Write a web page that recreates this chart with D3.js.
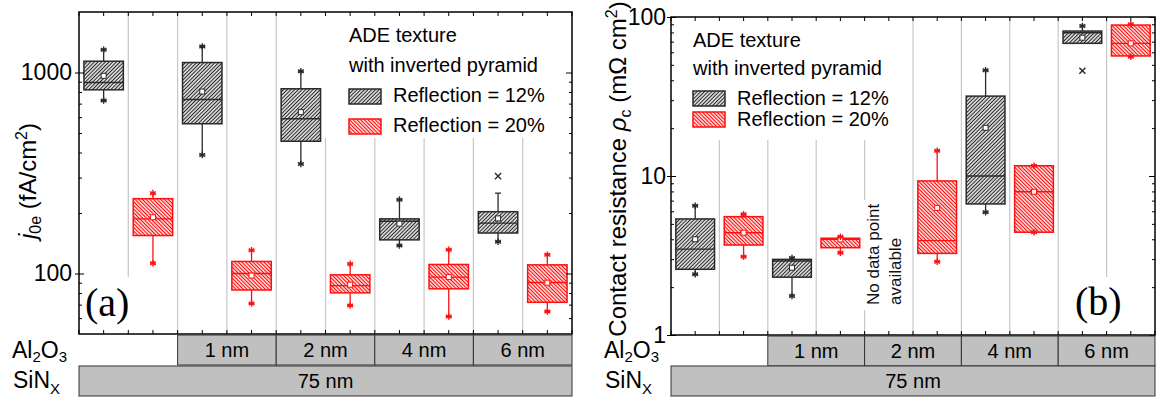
<!DOCTYPE html>
<html>
<head>
<meta charset="utf-8">
<script src="https://cdn.jsdelivr.net/npm/d3@7"></script>
<style>
body { margin: 0; background: #fff; }
svg { display: block; font-family: "Liberation Sans", Arial, sans-serif; }
</style>
</head>
<body>
<div id="view"></div>
<script>
var width = 1159, height = 397;

// Al2O3 interlayer groups, each one has a 12% and a 20% reflection box
var groups = ["none", "1 nm", "2 nm", "4 nm", "6 nm"];
var al2o3Labels = ["", "1 nm", "2 nm", "4 nm", "6 nm"];
var sinxLabel = "75 nm";
var legendTitle = ["ADE texture", "with inverted pyramid"];
var seriesNames = ["Reflection = 12%", "Reflection = 20%"];

// panel (a): j0e (fA/cm2), reflection 12%
var j0eQ1_12 = [820, 556, 455, 147, 159];
var j0eMed_12 = [892, 734, 589, 182, 178];
var j0eQ3_12 = [1138, 1121, 830, 187, 203];
var j0eMean_12 = [963, 804, 635, 177, 188];
var j0eWhLo_12 = [726, 389, 351, 138, 144];
var j0eWhHi_12 = [1297, 1347, 1015, 233, 251];
var j0eMin_12 = [726, 389, 351, 138, 144];
var j0eMax_12 = [1297, 1347, 1015, 233, 305];
// panel (a): reflection 20%
var j0eQ1_20 = [154.5, 82.8, 80.1, 83.9, 71.9];
var j0eMed_20 = [187, 100, 87, 95.9, 90.2];
var j0eQ3_20 = [235.6, 114.8, 98.5, 110.9, 110.4];
var j0eMean_20 = [190.5, 97.7, 88, 96, 90];
var j0eMin_20 = [112.5, 71, 69.3, 61.1, 64.7];
var j0eMax_20 = [251, 130.6, 111.6, 131.3, 124];

// panel (b): contact resistance (mOhm cm2), reflection 12% (no data for 2 nm)
var rcQ1_12 = [2.59, 2.31, null, 6.67, 68.3];
var rcMed_12 = [3.47, 2.92, null, 10.0, 79.6];
var rcQ3_12 = [5.37, 2.99, null, 31.8, 81.6];
var rcMean_12 = [4.0, 2.65, null, 20.1, 74.1];
var rcWhLo_12 = [2.41, 1.76, null, 5.92, 68.3];
var rcWhHi_12 = [6.5, 3.05, null, 46.2, 87.8];
var rcMin_12 = [2.41, 1.76, null, 5.92, 45.9];
var rcMax_12 = [6.5, 3.05, null, 46.2, 87.8];
// panel (b): reflection 20%
var rcQ1_20 = [3.68, 3.54, 3.26, 4.43, 56.9];
var rcMed_20 = [4.4, 4.0, 3.92, 7.96, 68.3];
var rcQ3_20 = [5.55, 4.06, 9.31, 11.6, 89.0];
var rcMean_20 = [4.4, 3.99, 6.3, 7.96, 68.3];
var rcMin_20 = [3.11, 3.29, 2.89, 4.43, 56.3];
var rcMax_20 = [5.74, 4.15, 14.4, 11.6, 90.0];

var blackCol = "#2a2a2a", redCol = "#ff1010";

var svg = d3.select("#view").append("svg")
	.attr("width", width)
	.attr("height", height);

// hatch fills
var defs = svg.append("defs");
function hatch(id, angle, color) {
	defs.append("pattern")
		.attr("id", id)
		.attr("patternUnits", "userSpaceOnUse")
		.attr("width", 2.6).attr("height", 4)
		.attr("patternTransform", "rotate(" + angle + ")")
		.call(function(p) {
			p.append("rect").attr("width", 2.6).attr("height", 4).attr("fill", "#fff");
			p.append("line").attr("x1", 1.3).attr("x2", 1.3).attr("y1", 0).attr("y2", 4)
				.attr("stroke", color).attr("stroke-width", 1.2);
		});
}
hatch("hatchBlack", 45, "#222");
hatch("hatchRed", -45, "#ff0000");

function mkSeries(q1, med, q3, mean, wlo, whi, mn, mx, color, fill) {
	return groups.map(function(gname, i) {
		return { q1: q1[i], med: med[i], q3: q3[i], mean: mean[i], wlo: wlo[i], whi: whi[i],
			min: mn[i], max: mx[i], color: color, fill: fill };
	});
}

function drawPanel(p) {
	var g = svg.append("g");
	var x = d3.scaleBand().domain(d3.range(10)).range([p.left, p.right]);
	var y = d3.scaleLog().domain(p.domain).range([p.bottom, p.top]);
	var bw = x.bandwidth();

	// grid lines between slots
	g.selectAll(".grid").data(d3.range(1, 10)).enter().append("line")
		.attr("x1", function(d) { return x(d); })
		.attr("x2", function(d) { return x(d); })
		.attr("y1", p.top).attr("y2", p.bottom)
		.attr("stroke", "#c8c8c8").attr("stroke-width", 1.2);

	// white patches behind the legend and panel letter
	p.patches.forEach(function(r) {
		g.append("rect").attr("x", r[0]).attr("y", r[1]).attr("width", r[2]).attr("height", r[3]).attr("fill", "#fff");
	});

	// boxes
	p.series.forEach(function(ser, si) {
		ser.forEach(function(d, gi) {
			if (d.q1 == null) return;
			var cx = x(gi * 2 + si) + bw / 2;
			var bg = g.append("g");
			var sw = 1.3;
			bg.append("line").attr("x1", cx).attr("x2", cx).attr("y1", y(d.wlo)).attr("y2", y(d.q1))
				.attr("stroke", d.color).attr("stroke-width", sw);
			bg.append("line").attr("x1", cx).attr("x2", cx).attr("y1", y(d.whi)).attr("y2", y(d.q3))
				.attr("stroke", d.color).attr("stroke-width", sw);
			[d.wlo, d.whi].forEach(function(v) {
				if (v == d.q1 || v == d.q3) return;
				bg.append("line").attr("x1", cx - 3).attr("x2", cx + 3).attr("y1", y(v)).attr("y2", y(v))
					.attr("stroke", d.color).attr("stroke-width", sw);
			});
			bg.append("rect")
				.attr("x", cx - bw * 0.4).attr("width", bw * 0.8)
				.attr("y", y(d.q3)).attr("height", y(d.q1) - y(d.q3))
				.attr("fill", "url(#" + d.fill + ")")
				.attr("stroke", d.color).attr("stroke-width", 1.5);
			bg.append("line").attr("x1", cx - bw * 0.4).attr("x2", cx + bw * 0.4)
				.attr("y1", y(d.med)).attr("y2", y(d.med))
				.attr("stroke", d.color).attr("stroke-width", 1.4);
			bg.append("rect").attr("x", cx - 2.5).attr("y", y(d.mean) - 2.5).attr("width", 5).attr("height", 5)
				.attr("fill", "#fff").attr("stroke", d.color).attr("stroke-width", 1);
			[[d.min, d.wlo], [d.max, d.whi]].forEach(function(m) {
				var outlier = m[0] != m[1];
				bg.append("path")
					.attr("transform", "translate(" + cx + "," + y(m[0]) + ")")
					.attr("d", d3.symbol(outlier ? d3.symbolTimes : d3.symbolAsterisk, outlier ? 26 : 30)())
					.attr("fill", "none").attr("stroke", d.color).attr("stroke-width", 1.4);
			});
		});
	});

	// no-data note
	if (p.note) {
		p.note.lines.forEach(function(t, i) {
			g.append("text")
				.attr("transform", "translate(" + (p.note.x + i * 22) + "," + p.note.y + ") rotate(-90)")
				.attr("font-size", 17).attr("fill", "#111").text(t);
		});
	}

	// slot ticks on top and bottom
	var tickPos = d3.range(0, 10.5, 0.5).map(function(i) { return p.left + i * bw; });
	tickPos.forEach(function(tx) {
		g.append("line").attr("x1", tx).attr("x2", tx).attr("y1", p.bottom).attr("y2", p.bottom - 4)
			.attr("stroke", "#000").attr("stroke-width", 1);
		g.append("line").attr("x1", tx).attr("x2", tx).attr("y1", p.top).attr("y2", p.top + 4)
			.attr("stroke", "#000").attr("stroke-width", 1);
	});

	// y axes
	var yl = g.append("g").attr("transform", "translate(" + p.left + ",0)")
		.call(d3.axisLeft(y).tickValues(p.majors).tickFormat(d3.format("d")).tickSizeInner(4).tickSizeOuter(0).tickPadding(p.pad));
	yl.select(".domain").remove();
	yl.selectAll("text").attr("font-size", 23).attr("font-family", "Liberation Sans, Arial, sans-serif").attr("fill", "#000");
	var yin = g.append("g").attr("transform", "translate(" + p.left + ",0)")
		.call(d3.axisRight(y).tickValues(p.majors).tickFormat("").tickSizeInner(5).tickSizeOuter(0));
	var ymin = g.append("g").attr("transform", "translate(" + p.left + ",0)")
		.call(d3.axisRight(y).tickValues(p.minors).tickFormat("").tickSizeInner(3).tickSizeOuter(0));
	var yr = g.append("g").attr("transform", "translate(" + p.right + ",0)")
		.call(d3.axisLeft(y).tickValues(p.majors).tickFormat("").tickSizeInner(6).tickSizeOuter(0));
	var yrm = g.append("g").attr("transform", "translate(" + p.right + ",0)")
		.call(d3.axisLeft(y).tickValues(p.minors).tickFormat("").tickSizeInner(3).tickSizeOuter(0));
	[yin, ymin, yr, yrm].forEach(function(a) { a.select(".domain").remove(); });

	// frame
	g.append("rect").attr("x", p.left).attr("y", p.top).attr("width", p.right - p.left).attr("height", p.bottom - p.top)
		.attr("fill", "none").attr("stroke", "#000").attr("stroke-width", 1.5);

	// y title
	var yt = g.append("text")
		.attr("transform", "translate(" + p.ytitle.x + "," + p.ytitle.y + ") rotate(-90)")
		.attr("text-anchor", "middle").attr("font-size", p.ytitle.size).attr("fill", "#000");
	p.ytitle.parts.forEach(function(s) {
		var t = yt.append("tspan").text(s.t);
		if (s.italic) t.attr("font-style", "italic");
		if (s.size) t.attr("font-size", s.size);
		if (s.dy) t.attr("dy", s.dy);
	});

	// panel letter
	g.append("text").attr("x", p.letter.x).attr("y", p.letter.y)
		.attr("font-family", "Liberation Serif, Times New Roman, serif").attr("font-size", 40)
		.attr("fill", "#000").text(p.letter.t);

	// legend
	var L = p.legend;
	legendTitle.forEach(function(t, i) {
		g.append("text").attr("x", L.x).attr("y", L.titleY[i]).attr("font-size", 20).attr("fill", "#000").text(t);
	});
	seriesNames.forEach(function(t, i) {
		g.append("rect").attr("x", L.x).attr("y", L.boxY[i]).attr("width", 32).attr("height", 15)
			.attr("fill", "url(#" + (i == 0 ? "hatchBlack" : "hatchRed") + ")")
			.attr("stroke", i == 0 ? blackCol : redCol).attr("stroke-width", 1.5);
		g.append("text").attr("x", L.textX).attr("y", L.textY[i]).attr("font-size", 20).attr("fill", "#000").text(t);
	});

	// layer table below the plot
	var rowA = [p.bottom + 1, 30], rowS = [366, 30];
	groups.forEach(function(gname, gi) {
		if (!al2o3Labels[gi]) return;
		g.append("rect").attr("x", x(gi * 2)).attr("y", rowA[0]).attr("width", bw * 2).attr("height", rowA[1])
			.attr("fill", "#c0c0c0").attr("stroke", "#333").attr("stroke-width", 1);
		g.append("text").attr("x", x(gi * 2) + bw).attr("y", rowA[0] + 22).attr("text-anchor", "middle")
			.attr("font-size", 20).attr("fill", "#000").text(al2o3Labels[gi]);
	});
	g.append("rect").attr("x", p.left).attr("y", rowS[0]).attr("width", p.right - p.left).attr("height", rowS[1])
		.attr("fill", "#c0c0c0").attr("stroke", "#333").attr("stroke-width", 1);
	g.append("text").attr("x", (p.left + p.right) / 2).attr("y", rowS[0] + 22).attr("text-anchor", "middle")
		.attr("font-size", 20).attr("fill", "#000").text(sinxLabel);

	var al = g.append("text").attr("x", p.left - 67).attr("y", 358).attr("font-size", 23).attr("fill", "#000");
	al.append("tspan").text("Al");
	al.append("tspan").attr("font-size", 15).attr("dy", 4).text("2");
	al.append("tspan").attr("dy", -4).text("O");
	al.append("tspan").attr("font-size", 15).attr("dy", 4).text("3");
	var si = g.append("text").attr("x", p.left - 66).attr("y", 388).attr("font-size", 23).attr("fill", "#000");
	si.append("tspan").text("SiN");
	si.append("tspan").attr("font-size", 15).attr("dy", 6).text("X");
}

drawPanel({
	left: 79, right: 572, top: 12, bottom: 334,
	domain: [50, 2000],
	majors: [100, 1000],
	minors: [60, 70, 80, 90, 200, 300, 400, 500, 600, 700, 800, 900],
	pad: 3,
	series: [
		mkSeries(j0eQ1_12, j0eMed_12, j0eQ3_12, j0eMean_12, j0eWhLo_12, j0eWhHi_12, j0eMin_12, j0eMax_12, blackCol, "hatchBlack"),
		mkSeries(j0eQ1_20, j0eMed_20, j0eQ3_20, j0eMean_20, j0eMin_20, j0eMax_20, j0eMin_20, j0eMax_20, redCol, "hatchRed")
	],
	patches: [[324, 13, 246, 125], [80, 277, 56, 56]],
	ytitle: { x: 36, y: 181, size: 24, parts: [
		{ t: "j", italic: true }, { t: "0e", size: 16, dy: 5 }, { t: " (fA/cm", dy: -5 },
		{ t: "2", size: 16, dy: -9 }, { t: ")", dy: 9 }] },
	letter: { x: 85, y: 316, t: "(a)" },
	legend: { x: 349, titleY: [42, 72], boxY: [89, 119], textX: 393, textY: [102, 132] }
});

drawPanel({
	left: 671, right: 1155, top: 17, bottom: 335,
	domain: [1, 100],
	majors: [1, 10, 100],
	minors: [2, 3, 4, 5, 6, 7, 8, 9, 20, 30, 40, 50, 60, 70, 80, 90],
	pad: 1,
	series: [
		mkSeries(rcQ1_12, rcMed_12, rcQ3_12, rcMean_12, rcWhLo_12, rcWhHi_12, rcMin_12, rcMax_12, blackCol, "hatchBlack"),
		mkSeries(rcQ1_20, rcMed_20, rcQ3_20, rcMean_20, rcMin_20, rcMax_20, rcMin_20, rcMax_20, redCol, "hatchRed")
	],
	patches: [[672, 18, 196, 122], [1066, 277, 88, 57], [862, 200, 40, 110]],
	note: { x: 879, y: 305, lines: ["No data point", "available"] },
	ytitle: { x: 626, y: 169, size: 24, parts: [
		{ t: "Contact resistance " }, { t: "\u03c1", italic: true }, { t: "c", size: 16, dy: 5 },
		{ t: " (m\u03a9 cm", dy: -5 }, { t: "2", size: 16, dy: -9 }, { t: ")", dy: 9 }] },
	letter: { x: 1075, y: 315, t: "(b)" },
	legend: { x: 693, titleY: [47, 75], boxY: [91, 112], textX: 737, textY: [105, 126] }
});
</script>
</body>
</html>
